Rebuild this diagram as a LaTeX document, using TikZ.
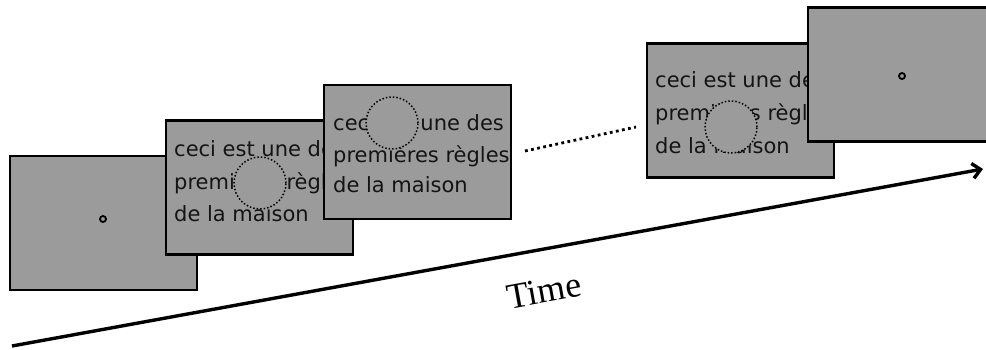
\documentclass[tikz,border=0pt]{standalone}
\usepackage{fontspec}
\usepackage{tikz}
\usetikzlibrary{arrows.meta}
\newfontfamily\handfont{DejaVu Sans}
\newfontfamily\timefont{Liberation Serif}
\definecolor{panel}{RGB}{155,155,155}
\definecolor{ink}{RGB}{20,20,20}

\begin{document}
\begin{tikzpicture}[
		x=1pt, y=-1pt,
		frame/.style={rectangle, draw, line width=2.6pt, fill=panel, minimum width=187pt, minimum height=134pt, inner sep=0pt},
		fixdot/.style={circle, draw, line width=1.8pt, minimum size=6pt, inner sep=0pt},
		window/.style={circle, draw, dotted, line width=1.5pt, fill=panel, minimum size=52pt, inner sep=0pt},
		sentence/.style={anchor=base west, inner sep=0pt, text=ink, font=\handfont\fontsize{21}{24}\selectfont}
	]
  \useasboundingbox (0,0) rectangle (986,349);
  \clip (0,0) rectangle (986,349);
  % fixation
  \node (frame1) [frame] at (103.5,223) {};
  \node (fix1) [fixdot] at (103,219) {};
  % first reading frame
  \node (frame2) [frame] at (259.5,187.5) {};
  \node (s2a) [sentence] at (174,156) {ceci est une des};
  \node (s2b) [sentence] at (174,189) {premières règles};
  \node (s2c) [sentence] at (174,221) {de la maison};
  \node (win2) [window] at (260,183) {};
  % second reading frame
  \node (frame3) [frame] at (417.5,152) {};
  \node (s3a) [sentence] at (333,130) {ceci est une des};
  \node (s3b) [sentence] at (333,162) {premières règles};
  \node (s3c) [sentence] at (333,192) {de la maison};
  \node (win3) [window] at (392,123) {};
  \coordinate (gapA) at (525,151);
  \coordinate (gapB) at (636,127);
  \draw [dash pattern=on 2.8pt off 3.4pt, line width=2.8pt] (gapA) -- (gapB);
  % last reading frame
  \node (frame4) [frame] at (740.5,110.5) {};
  \node (s4a) [sentence] at (655,87) {ceci est une des};
  \node (s4b) [sentence] at (655,120) {premières règles};
  \node (s4c) [sentence] at (655,153) {de la maison};
  \node (win4) [window] at (731,127) {};
  % final fixation
  \node (frame5) [frame] at (901.5,74.5) {};
  \node (fix5) [fixdot] at (902,76) {};
  % time axis
  \coordinate (tStart) at (12,346);
  \coordinate (tEnd) at (983,169);
  \draw [line width=3.4pt, -{Straight Barb[length=8pt, width=15pt]}] (tStart) -- (tEnd);
  \node (time) [rotate=10.3, font=\timefont\fontsize{36}{40}\selectfont] at (544,291) {Time};
\end{tikzpicture}
\end{document}
